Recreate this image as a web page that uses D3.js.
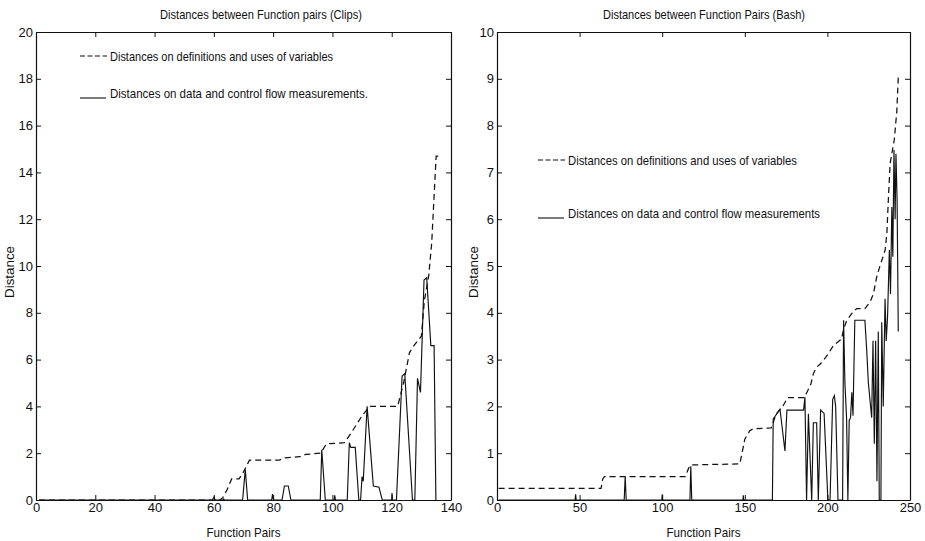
<!DOCTYPE html>
<html><head><meta charset="utf-8">
<script src="https://cdn.jsdelivr.net/npm/d3@7"></script>
<style>
body{margin:0;background:#fff}
text{font-family:"Liberation Sans Narrow","Arial Narrow","Liberation Sans",Arial,sans-serif;fill:#111}
</style>
</head><body>
<svg id="c" width="925" height="541"></svg>
<script>
// ---------- DATA ----------
const clipsTitle = "Distances between Function pairs (Clips)";
const bashTitle = "Distances between Function Pairs (Bash)";
const xLabel = "Function Pairs";
const yLabel = "Distance";
const clipsLegend = ["Distances on definitions and uses of variables", "Distances on data and control flow measurements."];
const bashLegend = ["Distances on definitions and uses of variables", "Distances on data and control flow measurements"];

const clipsXTicks = [0, 20, 40, 60, 80, 100, 120, 140];
const clipsYTicks = [0, 2, 4, 6, 8, 10, 12, 14, 16, 18, 20];
const bashXTicks = [0, 50, 100, 150, 200, 250];
const bashYTicks = [0, 1, 2, 3, 4, 5, 6, 7, 8, 9, 10];

// Clips: distances on definitions and uses of variables (dashed)
const clipsDefUse = [[1,0],[62,0],[63,0.1],[64.5,0.45],[66,0.9],[68.5,0.9],[70,1.2],[72,1.7],[82,1.7],[84,1.8],[89,1.85],[91,1.95],[96,2.0],[98,2.4],[104,2.45],[106,2.8],[108,3.2],[110,3.6],[112.5,4.0],[122,4.0],[124,5.0],[126,6.3],[127.5,6.6],[130,7.0],[131,8.5],[132.5,9.6],[133.5,11],[134.5,13.5],[135,14.7],[137,14.7]];
// Clips: distances on data and control flow measurements (solid)
const clipsFlow = [[1,0],[59.5,0],[60,0.12],[60.5,0],[63,0],[63.3,0.05],[63.6,0],[69.7,0],[70.6,1.3],[71.4,0],[79.5,0],[79.8,0.25],[80.1,0],[83,0],[83.8,0.6],[85.1,0.6],[86,0],[95.9,0],[96.4,2.15],[97.6,0],[100.6,0],[100.8,0.2],[101,0],[105,0],[105.7,2.45],[106.2,2.25],[107.7,2.25],[108.9,0],[109.5,0],[110,1.0],[110.4,0.8],[111.7,4.0],[113.8,0.6],[115.7,0.55],[116.8,0],[120,0],[120.1,0.3],[120.2,0],[121.6,0],[123.5,5.3],[124.4,5.4],[127,0],[127.8,0],[128.7,5.2],[129.7,4.6],[130.9,9.4],[131.8,9.5],[133.2,6.6],[134.3,6.6],[134.9,0]];

// Bash: definitions and uses of variables (dashed)
const bashDefUse = [[1,0.25],[63,0.25],[64,0.45],[65,0.5],[114,0.5],[116,0.68],[117.5,0.75],[147,0.77],[148,0.95],[149,1.12],[150,1.3],[153,1.48],[155,1.52],[166,1.54],[169,1.84],[173,2.0],[176,2.19],[186,2.19],[188,2.33],[190,2.48],[191.5,2.7],[193.5,2.84],[195.5,2.9],[197.5,2.98],[200.5,3.12],[203.6,3.3],[208.6,3.44],[209.6,3.62],[211.6,3.83],[214.7,3.98],[217.7,4.09],[222.7,4.09],[225.8,4.23],[227.8,4.4],[229.8,4.76],[231.8,5.0],[234.9,5.33],[236,5.7],[237,6.5],[238,7.2],[240.5,7.7],[242,8.3],[243,9.1]];
// Bash: data and control flow measurements (solid)
const bashFlow = [[1,0],[47.3,0],[47.6,0.12],[47.9,0],[77,0],[77.6,0.5],[78.2,0],[99.8,0],[100,0.12],[100.2,0],[116.8,0],[117.3,0.72],[117.9,0],[148.9,0],[149.1,0.1],[149.3,0],[166.7,0],[167.2,1.73],[171.3,1.94],[174.3,1.05],[175.5,1.92],[185.6,1.92],[186.4,2.2],[187.4,0],[188.5,1.84],[190.5,0],[191.5,1.65],[193.5,1.65],[194.5,0],[195.9,1.92],[198,1.85],[200.3,0],[201.6,0],[203.2,2.15],[204.2,2.23],[205,2.0],[206.4,0],[209.2,0],[209.8,3.84],[210.6,2.5],[211.6,1.76],[212.4,0],[213.2,1.7],[214,1.76],[214.8,2.3],[215.5,1.8],[216.6,3.84],[222.7,3.84],[223.8,3.2],[224.8,2.5],[226.8,1.76],[227.6,3.4],[228.4,1.2],[229.2,3.4],[230,0.4],[230.8,3.6],[231.4,0],[232.4,0],[232.9,3.8],[233.8,2.0],[234.9,4.3],[235.6,3.4],[236.4,3.9],[237.5,5.34],[238.2,4.4],[239,6.26],[239.6,5.2],[240.3,7.48],[241,6.0],[241.5,7.4],[242.2,6.4],[242.9,3.6]];

// ---------- DRAWING ----------
const svg = d3.select("#c");
const INK = "#111";
const FONT = '"Liberation Sans Narrow","Arial Narrow","Liberation Sans",Arial,sans-serif';

function fitText(sel, w){ sel.attr("textLength", w).attr("lengthAdjust", "spacingAndGlyphs"); return sel; }

function panel(o){
  const x = d3.scaleLinear().domain(o.xDomain).range([o.left, o.right]);
  const y = d3.scaleLinear().domain(o.yDomain).range([o.bottom, o.top]);
  const g = svg.append("g");

  // data lines
  const line = d3.line().x(d => x(d[0])).y(d => y(d[1]));
  g.append("path").datum(o.defs).attr("d", line).attr("fill","none")
    .attr("stroke", INK).attr("stroke-width", 1.25).attr("stroke-dasharray", "6,4");
  g.append("path").datum(o.flow).attr("d", line).attr("fill","none")
    .attr("stroke", INK).attr("stroke-width", 1.15);

  // axes (MATLAB style: inward ticks on all sides)
  const bottom = g.append("g").attr("transform", `translate(0,${o.bottom})`)
    .call(d3.axisBottom(x).tickValues(o.xTicks).tickSizeInner(-5).tickSizeOuter(0).tickPadding(3));
  const topAx = g.append("g").attr("transform", `translate(0,${o.top})`)
    .call(d3.axisTop(x).tickValues(o.xTicks).tickSizeInner(-5).tickSizeOuter(0).tickFormat(""));
  const leftAx = g.append("g").attr("transform", `translate(${o.left},0)`)
    .call(d3.axisLeft(y).tickValues(o.yTicks).tickSizeInner(-5).tickSizeOuter(0).tickPadding(3));
  const rightAx = g.append("g").attr("transform", `translate(${o.right},0)`)
    .call(d3.axisRight(y).tickValues(o.yTicks).tickSizeInner(-5).tickSizeOuter(0).tickFormat(""));
  [bottom, topAx, leftAx, rightAx].forEach(a => {
    a.select(".domain").attr("stroke", INK).attr("stroke-width", 1.2);
    a.selectAll(".tick line").attr("stroke", INK).attr("stroke-width", 1);
    a.selectAll(".tick text").attr("font-size", 13).attr("fill", INK).attr("font-family", FONT);
  });

  // title and labels
  fitText(g.append("text").attr("x", o.titleX).attr("y", 19).attr("text-anchor","middle")
    .attr("font-size", 13).text(o.title), 202);
  fitText(g.append("text").attr("x", (o.left+o.right)/2).attr("y", 537).attr("text-anchor","middle")
    .attr("font-size", 13).text(xLabel), 74);
  fitText(g.append("text").attr("transform", `translate(${o.yLabelX},272) rotate(-90)`)
    .attr("text-anchor","middle").attr("font-size", 13).text(yLabel), 52);

  // legend
  g.append("line").attr("x1", o.lg.x).attr("x2", o.lg.x + 27).attr("y1", o.lg.y1).attr("y2", o.lg.y1)
    .attr("stroke", INK).attr("stroke-width", 1.2).attr("stroke-dasharray", "5,2.5");
  fitText(g.append("text").attr("x", o.lg.x + 30).attr("y", o.lg.y1).attr("dy","0.35em")
    .attr("font-size", 13).text(o.legend[0]), o.lg.w1);
  g.append("line").attr("x1", o.lg.x).attr("x2", o.lg.x + 26).attr("y1", o.lg.y2 + 5).attr("y2", o.lg.y2 + 5)
    .attr("stroke", INK).attr("stroke-width", 1.1);
  fitText(g.append("text").attr("x", o.lg.x + 30).attr("y", o.lg.y2).attr("dy","0.35em")
    .attr("font-size", 13).text(o.legend[1]), o.lg.w2);
}

panel({title: clipsTitle, titleX: 261, xDomain:[0,140], yDomain:[0,20], xTicks: clipsXTicks, yTicks: clipsYTicks,
  left:36, right:451, top:32, bottom:500, yLabelX: 14, defs: clipsDefUse, flow: clipsFlow,
  legend: clipsLegend, lg:{x:80, y1:56, y2:93, w1:223, w2:258}});
panel({title: bashTitle, titleX: 704, xDomain:[0,250], yDomain:[0,10], xTicks: bashXTicks, yTicks: bashYTicks,
  left:497, right:910, top:32, bottom:500, yLabelX: 478, defs: bashDefUse, flow: bashFlow,
  legend: bashLegend, lg:{x:538, y1:160, y2:213, w1:229, w2:252}});
</script>
</body></html>
